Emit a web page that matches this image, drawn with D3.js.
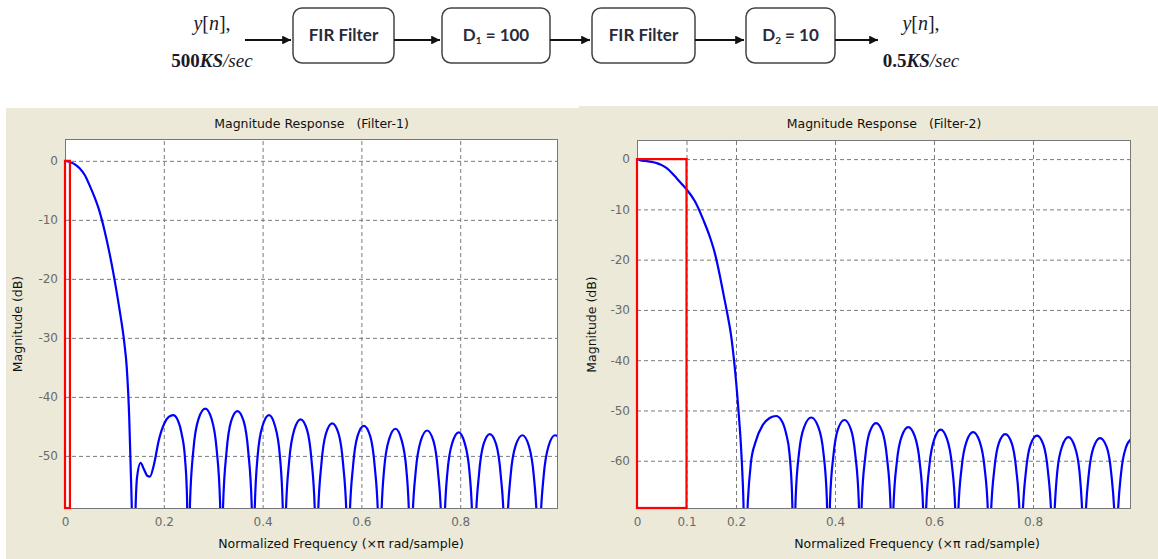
<!DOCTYPE html>
<html><head><meta charset="utf-8">
<script src="https://cdn.jsdelivr.net/npm/d3@7"></script>
<style>
html,body{margin:0;padding:0;background:#fff;}
svg{display:block;}
</style>
</head><body>
<svg id="chart" width="1158" height="559"></svg>
<script>
// ---------- data ----------
const blockLabels = ["FIR Filter", "D1 = 100", "FIR Filter", "D2 = 10"];
const inputRate = "500";
const outputRate = "0.5";

const filter1Freq = [0,0.01,0.02,0.03,0.04,0.05,0.06,0.07,0.08,0.09,0.10,0.11,0.12,0.125,0.13,0.133,0.136,0.139,
 0.142,0.146,0.153,0.160,0.167,0.172,0.180,0.190,0.201,0.210,0.219,0.228,0.236,0.243,0.247,
 0.250,0.253,0.260,0.270,0.284,0.297,0.307,0.314,
 0.317,0.320,0.327,0.336,0.349,0.362,0.371,0.378,
 0.381,0.384,0.390,0.400,0.413,0.425,0.435,0.441,
 0.444,0.447,0.454,0.464,0.477,0.490,0.499,0.506,
 0.509,0.512,0.519,0.528,0.541,0.554,0.563,0.570,
 0.573,0.576,0.583,0.592,0.605,0.618,0.627,0.634,
 0.637,0.640,0.646,0.656,0.669,0.681,0.691,0.697,
 0.700,0.703,0.710,0.720,0.733,0.746,0.755,0.762,
 0.765,0.768,0.774,0.784,0.797,0.809,0.819,0.825,
 0.828,0.831,0.838,0.847,0.860,0.873,0.882,0.889,
 0.892,0.895,0.902,0.912,0.926,0.939,0.949,0.956,
 0.959,0.962,0.969,0.979,0.992,0.9985];
const filter1Mag = [0,-0.2,-0.6,-1.3,-2.4,-4.2,-6.2,-8.6,-11.8,-15.6,-20.0,-25.0,-30.8,-35.0,-43.5,-52,-62,-80,
 -62,-53.5,-51.2,-52.3,-53.4,-53.5,-51.5,-47.3,-44.5,-43.4,-43.1,-43.9,-46.2,-50.5,-57,
 -80,-58.1,-48.9,-43.8,-42.0,-43.8,-48.9,-58.1,
 -80,-58.5,-49.3,-44.2,-42.4,-44.2,-49.3,-58.5,
 -80,-59.2,-50.0,-44.9,-43.1,-44.9,-50.0,-59.2,
 -80,-59.9,-50.7,-45.6,-43.8,-45.6,-50.7,-59.9,
 -80,-60.6,-51.4,-46.3,-44.5,-46.3,-51.4,-60.6,
 -80,-61.0,-51.8,-46.7,-44.9,-46.7,-51.8,-61.0,
 -80,-61.5,-52.3,-47.2,-45.4,-47.2,-52.3,-61.5,
 -80,-61.8,-52.6,-47.5,-45.7,-47.5,-52.6,-61.8,
 -80,-62.1,-52.9,-47.8,-46.0,-47.8,-52.9,-62.1,
 -80,-62.4,-53.2,-48.1,-46.3,-48.1,-53.2,-62.4,
 -80,-62.6,-53.4,-48.3,-46.5,-48.3,-53.4,-62.6,
 -80,-62.6,-53.4,-48.3,-46.5,-46.7];

const filter2Freq = [0,0.01,0.02,0.03,0.04,0.05,0.06,0.07,0.08,0.09,0.10,0.117,0.134,0.148,0.158,0.167,0.175,0.182,0.19,0.196,0.205,0.21,0.214,0.219,
 0.224,0.230,0.239,0.254,0.268,0.281,0.292,0.301,0.308,0.313,
 0.317,0.3205,0.3275,0.338,0.352,0.366,0.3765,0.3835,
 0.387,0.390,0.397,0.406,0.419,0.432,0.441,0.448,
 0.451,0.454,0.461,0.470,0.483,0.496,0.505,0.512,
 0.515,0.518,0.525,0.535,0.548,0.561,0.571,0.578,
 0.581,0.584,0.591,0.601,0.6135,0.626,0.636,0.643,
 0.646,0.649,0.656,0.666,0.679,0.692,0.702,0.709,
 0.712,0.715,0.722,0.731,0.744,0.757,0.766,0.773,
 0.776,0.779,0.786,0.795,0.808,0.821,0.830,0.837,
 0.840,0.843,0.849,0.859,0.8715,0.884,0.894,0.900,
 0.903,0.906,0.913,0.9225,0.9355,0.949,0.958,0.965,
 0.968,0.971,0.978,0.988,0.9995];
const filter2Mag = [0,-0.3,-0.4,-0.55,-0.8,-1.2,-1.8,-2.7,-3.8,-4.9,-6.0,-8.4,-12.1,-15.7,-19,-23,-27,-30.5,-35,-40,-50,-57,-65,-80,
 -68,-60.5,-56.4,-52.9,-51.5,-51.1,-52,-54.5,-58.5,-66,
 -80,-67.5,-58.3,-53.2,-51.4,-53.2,-58.3,-67.5,
 -80,-68.0,-58.8,-53.7,-51.9,-53.7,-58.8,-68.0,
 -80,-68.6,-59.4,-54.3,-52.5,-54.3,-59.4,-68.6,
 -80,-69.4,-60.2,-55.1,-53.3,-55.1,-60.2,-69.4,
 -80,-69.9,-60.7,-55.6,-53.8,-55.6,-60.7,-69.9,
 -80,-70.4,-61.2,-56.1,-54.3,-56.1,-61.2,-70.4,
 -80,-70.8,-61.6,-56.5,-54.7,-56.5,-61.6,-70.8,
 -80,-71.1,-61.9,-56.8,-55.0,-56.8,-61.9,-71.1,
 -80,-71.4,-62.2,-57.1,-55.3,-57.1,-62.2,-71.4,
 -80,-71.6,-62.4,-57.3,-55.5,-57.3,-62.4,-71.6,
 -80,-71.6,-62.4,-57.3,-55.6];

const filter1XTicks = [0,0.2,0.4,0.6,0.8];
const filter1XTickLabels = ["0","0.2","0.4","0.6","0.8"];
const filter1YTicks = [0,-10,-20,-30,-40,-50];
const filter1YTickLabels = ["0","-10","-20","-30","-40","-50"];
const filter2XTicks = [0,0.1,0.2,0.4,0.6,0.8];
const filter2XTickLabels = ["0","0.1","0.2","0.4","0.6","0.8"];
const filter2YTicks = [0,-10,-20,-30,-40,-50,-60];
const filter2YTickLabels = ["0","-10","-20","-30","-40","-50","-60"];

const filter1Title = "Filter-1";
const filter2Title = "Filter-2";
const filter1Band = [0, 0.01];   // red highlighted band (frequency)
const filter2Band = [0, 0.1];
const filter1YDomain = [-59, 3.7];
const filter2YDomain = [-69.6, 3.8];
const xDomain = [0, 0.998];

// ---------- drawing ----------
const svg = d3.select("#chart");
const BEIGE = "#ECE9D8";

// block diagram
const diag = svg.append("g");
const defs = svg.append("defs");
defs.append("marker").attr("id","arr").attr("viewBox","0 0 10 10").attr("refX",10).attr("refY",5)
  .attr("markerWidth",4).attr("markerHeight",4).attr("orient","auto").attr("markerUnits","strokeWidth")
  .append("path").attr("d","M0,0L10,5L0,10z").attr("fill","#111");

const boxes = [[293,394],[442,550],[592,695],[746,835]];
const boxTop = 8, boxBot = 63, arrowY = 40;
boxes.forEach((b,i)=>{
  diag.append("rect").attr("x",b[0]).attr("y",boxTop).attr("width",b[1]-b[0]).attr("height",boxBot-boxTop)
    .attr("rx",9).attr("fill","#fff").attr("stroke","#444").attr("stroke-width",1.5);
  const t = diag.append("text").attr("x",(b[0]+b[1])/2).attr("y",(boxTop+boxBot)/2+1)
    .attr("text-anchor","middle").attr("dominant-baseline","middle")
    .attr("font-family","Lato, 'Open Sans', sans-serif").attr("font-weight","bold").attr("font-size",17).attr("fill","#2a2a3a");
  const lab = blockLabels[i];
  if (lab.startsWith("D")) {
    t.append("tspan").text("D");
    t.append("tspan").attr("font-size",10).attr("dy",4).text(lab.charAt(1));
    t.append("tspan").attr("dy",-4).text(lab.slice(2));
  } else t.text(lab);
});
const arrows = [[245,291],[394,440],[550,590],[695,744],[835,878]];
arrows.forEach(a=>{
  diag.append("line").attr("x1",a[0]).attr("x2",a[1]).attr("y1",arrowY).attr("y2",arrowY)
    .attr("stroke","#111").attr("stroke-width",2.2).attr("marker-end","url(#arr)");
});
function sigLabel(cx, rate){
  const serif = "'Liberation Serif','DejaVu Serif',serif";
  const t1 = diag.append("text").attr("x",cx).attr("y",30).attr("text-anchor","middle")
    .attr("font-family",serif).attr("font-size",20).attr("fill","#1a1a2a");
  t1.append("tspan").attr("font-style","italic").text("y");
  t1.append("tspan").text("[");
  t1.append("tspan").attr("font-style","italic").text("n");
  t1.append("tspan").text("],");
  const t2 = diag.append("text").attr("x",cx).attr("y",67).attr("text-anchor","middle")
    .attr("font-family",serif).attr("font-size",19).attr("font-weight","bold").attr("fill","#1a1a2a");
  t2.append("tspan").text(rate);
  t2.append("tspan").attr("font-style","italic").text("KS");
  t2.append("tspan").attr("font-style","italic").attr("font-weight","normal").text("/sec");
}
sigLabel(212, inputRate);
sigLabel(921, outputRate);

// panels
svg.append("rect").attr("x",6).attr("y",108).attr("width",573).attr("height",451).attr("fill",BEIGE);
svg.append("rect").attr("x",579).attr("y",106).attr("width",579).attr("height",453).attr("fill",BEIGE);

function drawChart(opt){
  const g = svg.append("g");
  const x = d3.scaleLinear().domain(xDomain).range([opt.left, opt.right]);
  const y = d3.scaleLinear().domain(opt.yDomain).range([opt.bottom, opt.top]);
  const W = opt.right-opt.left, H = opt.bottom-opt.top;
  g.append("rect").attr("x",opt.left).attr("y",opt.top).attr("width",W).attr("height",H).attr("fill","#fff");

  // grid
  const gx = g.append("g").attr("transform",`translate(0,${opt.bottom})`)
    .call(d3.axisBottom(x).tickValues(opt.xTicks.filter(v=>v>0)).tickSize(-H).tickFormat(""));
  const gy = g.append("g").attr("transform",`translate(${opt.left},0)`)
    .call(d3.axisLeft(y).tickValues(opt.yTicks).tickSize(-W).tickFormat(""));
  [gx,gy].forEach(a=>{
    a.select(".domain").remove();
    a.selectAll(".tick line").attr("stroke","#7a7a7a").attr("stroke-width",1).attr("stroke-dasharray","4,3");
  });

  // curve
  const cid = "clip"+opt.id;
  defs.append("clipPath").attr("id",cid).append("rect")
    .attr("x",opt.left).attr("y",opt.top).attr("width",W).attr("height",H);
  const pts = opt.freq.map((f,i)=>[f,opt.mag[i]]);
  g.append("path").attr("clip-path",`url(#${cid})`).datum(pts)
    .attr("d", d3.line().x(d=>x(d[0])).y(d=>y(d[1])).curve(d3.curveMonotoneX))
    .attr("fill","none").attr("stroke","#0000ff").attr("stroke-width",2.2).attr("stroke-linejoin","round");

  // box border
  g.append("rect").attr("x",opt.left+0.5).attr("y",opt.top+0.5).attr("width",W-1).attr("height",H-1)
    .attr("fill","none").attr("stroke","#777").attr("stroke-width",1);

  // red band
  g.append("rect").attr("x",x(opt.band[0])).attr("y",y(0))
    .attr("width",x(opt.band[1])-x(opt.band[0])).attr("height",opt.bottom-y(0)-1)
    .attr("fill","none").attr("stroke","#ff0000").attr("stroke-width",2.2);

  // tick labels
  const ax = g.append("g").attr("transform",`translate(0,${opt.bottom})`)
    .call(d3.axisBottom(x).tickValues(opt.xTicks).tickSize(0).tickPadding(8)
      .tickFormat((d,i)=>opt.xLabels[i]));
  const ay = g.append("g").attr("transform",`translate(${opt.left},0)`)
    .call(d3.axisLeft(y).tickValues(opt.yTicks).tickSize(0).tickPadding(7)
      .tickFormat((d,i)=>opt.yLabels[i]));
  [ax,ay].forEach(a=>{
    a.select(".domain").remove();
    a.selectAll("text").attr("font-family","'DejaVu Sans',sans-serif").attr("font-size",12).attr("fill","#6a6a6a");
  });

  const font = "'DejaVu Sans',sans-serif";
  g.append("text").attr("x",(opt.left+opt.right)/2).attr("y",128).attr("text-anchor","middle")
    .attr("font-family",font).attr("font-size",12.5).attr("fill","#111")
    .text("Magnitude Response\u00a0\u00a0\u00a0(" + opt.title + ")");
  g.append("text").attr("x",opt.xLabelX).attr("y",548).attr("text-anchor","middle")
    .attr("font-family",font).attr("font-size",12.5).attr("fill","#111")
    .text("Normalized Frequency (\u00d7\u03c0 rad/sample)");
  g.append("text").attr("transform",`translate(${opt.yLabelX},${(opt.top+opt.bottom)/2}) rotate(-90)`)
    .attr("text-anchor","middle").attr("font-family",font).attr("font-size",12.5).attr("fill","#111")
    .text("Magnitude (dB)");
}

drawChart({id:1,left:65,right:558,top:139,bottom:509,yDomain:filter1YDomain,
  freq:filter1Freq,mag:filter1Mag,xTicks:filter1XTicks,xLabels:filter1XTickLabels,
  yTicks:filter1YTicks,yLabels:filter1YTickLabels,band:filter1Band,title:filter1Title,
  xLabelX:341,yLabelX:22});
drawChart({id:2,left:637,right:1131,top:140,bottom:509,yDomain:filter2YDomain,
  freq:filter2Freq,mag:filter2Mag,xTicks:filter2XTicks,xLabels:filter2XTickLabels,
  yTicks:filter2YTicks,yLabels:filter2YTickLabels,band:filter2Band,title:filter2Title,
  xLabelX:917,yLabelX:596});
</script>
</body></html>
